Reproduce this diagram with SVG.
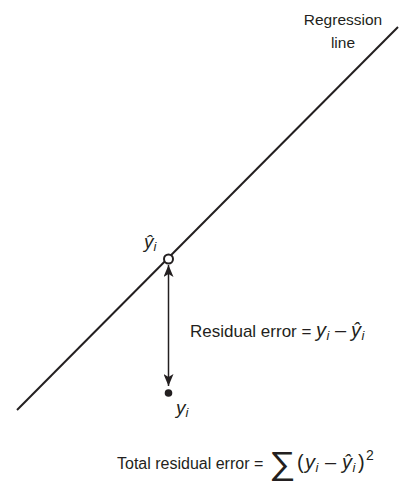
<svg xmlns="http://www.w3.org/2000/svg" width="401" height="483" viewBox="0 0 401 483">
<style>
  text { font-family: "Liberation Sans", Arial, sans-serif; fill: #231f20; }
  .lbl { font-size: 15.5px; }
  .it { font-style: italic; }
  .sub { font-size: 13px; font-style: italic; }
  .m { font-size: 20px; }
  .ln { stroke: #231f20; stroke-width: 2; fill: none; }
</style>
<defs>
  <marker id="ah" viewBox="0 0 12 10" refX="12" refY="5" markerWidth="12" markerHeight="10" markerUnits="userSpaceOnUse" orient="auto-start-reverse">
    <path d="M0,0 L12,5 L0,10 L3,5 Z" fill="#231f20"/>
  </marker>
</defs>
<rect width="401" height="483" fill="#fff"/>
<g id="regression-line">
  <line class="ln" x1="17" y1="410" x2="398" y2="27"/>
  <text class="lbl" x="343" y="25" text-anchor="middle">Regression</text>
  <text class="lbl" x="343" y="48" text-anchor="middle">line</text>
</g>
<g id="connectors">
  <line x1="168.5" y1="265" x2="168.5" y2="386" stroke="#231f20" stroke-width="1.5" marker-start="url(#ah)" marker-end="url(#ah)"/>
</g>
<g id="predicted">
  <circle cx="168.5" cy="259" r="4.5" fill="#fff" stroke="#231f20" stroke-width="2"/>
  <text x="144" y="248" style="font-size:19px"><tspan class="it">ŷ</tspan><tspan class="sub" dy="3">i</tspan></text>
</g>
<g id="observed">
  <circle cx="168.5" cy="393" r="3.8" fill="#231f20"/>
  <text x="176" y="414" style="font-size:19px"><tspan class="it">y</tspan><tspan class="sub" dy="3">i</tspan></text>
</g>
<g id="residual-label">
  <text x="190" y="337" style="font-size:17px">Residual error =</text>
  <text class="m" y="337"><tspan class="it" x="316">y</tspan><tspan class="sub" x="326.5" dy="3">i</tspan><tspan x="335" dy="-3">–</tspan><tspan class="it" x="351">ŷ</tspan><tspan class="sub" x="361.5" dy="3">i</tspan></text>
</g>
<g id="total-label">
  <text x="117" y="469" style="font-size:16px">Total residual error =</text>
  <text transform="translate(269,474) scale(1.15,1)" style="font-size:32px">∑</text>
  <text class="m" y="469"><tspan x="297">(</tspan><tspan class="it" x="305">y</tspan><tspan class="sub" x="315.5" dy="3">i</tspan><tspan x="325" dy="-3">–</tspan><tspan class="it" x="342">ŷ</tspan><tspan class="sub" x="352.5" dy="3">i</tspan><tspan x="358" dy="-3">)</tspan><tspan x="366" dy="-9" style="font-size:14px">2</tspan></text>
</g>
</svg>
